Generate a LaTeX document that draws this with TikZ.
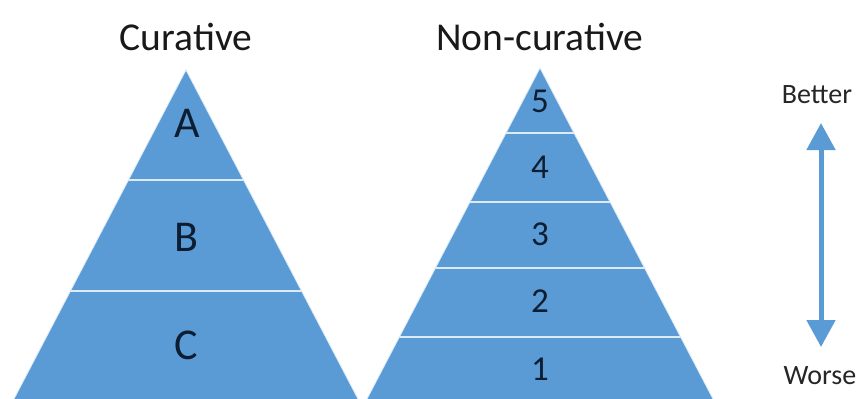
\documentclass[tikz,border=0pt]{standalone}
\usepackage{fontspec}
\setmainfont{Carlito}
\usetikzlibrary{arrows.meta}

\definecolor{tierblue}{HTML}{5B9BD5}
\definecolor{tierline}{HTML}{DDEBF7}
\definecolor{tiertext}{HTML}{0E1E32}

\tikzset{
  tier/.style={fill=tierblue, draw=tierline, line width=0.8pt},
  divider/.style={draw=tierline, line width=2.5pt},
  title/.style={font=\fontsize{39.5}{42}\selectfont, text=black!90},
  letter/.style={font=\fontsize{44}{47}\selectfont, text=tiertext},
  digit/.style={font=\fontsize{35}{38}\selectfont, text=tiertext},
  side/.style={font=\fontsize{28}{30}\selectfont, text=black!85}
}

\begin{document}
\begin{tikzpicture}[x=1pt, y=-1pt]

    \useasboundingbox (0,0) rectangle (863,399);
    \clip (0,0) rectangle (863,399);

    % Curative pyramid
    \coordinate (CurTop) at (186,70);
    \begin{scope}
        \clip (CurTop) -- (3,420) -- (369,420) -- cycle;
        \fill[tierblue] (0,0) rectangle (863,420);
        \foreach \y in {180,291}
            \draw[divider] (0,\y) -- (430,\y);
    \end{scope}
    \draw[draw=tierline, line width=0.8pt] (3,420) -- (CurTop) -- (369,420);

    \node[title] (CurTitle) at (186,37) {Curative};
    \node[letter] (TierA) at (187,123) {A};
    \node[letter] (TierB) at (186,237) {B};
    \node[letter] (TierC) at (186,345) {C};

    % Non-curative pyramid
    \coordinate (NonTop) at (540,68);
    \begin{scope}
        \clip (NonTop) -- (356,420) -- (724,420) -- cycle;
        \fill[tierblue] (0,0) rectangle (863,420);
        \foreach \y in {133,202,268,337}
            \draw[divider] (350,\y) -- (730,\y);
    \end{scope}
    \draw[draw=tierline, line width=0.8pt] (356,420) -- (NonTop) -- (724,420);

    \node[title] (NonTitle) at (540,37) {Non-curative};
    \foreach \n/\y in {5/101,4/167,3/234,2/301,1/369}
        \node[digit] (Tier\n) at (540,\y) {\n};

    % Better / worse scale
    \node[side] (Better) at (817,95) {Better};
    \node[side] (Worse) at (820,376) {Worse};
    \coordinate (ScaleTop) at (821,123);
    \coordinate (ScaleBot) at (821,347);
    \draw[tierblue, line width=5pt,
          {Triangle[width=28pt,length=27pt]}-{Triangle[width=28pt,length=27pt]}]
        (ScaleTop) -- (ScaleBot);

\end{tikzpicture}
\end{document}
